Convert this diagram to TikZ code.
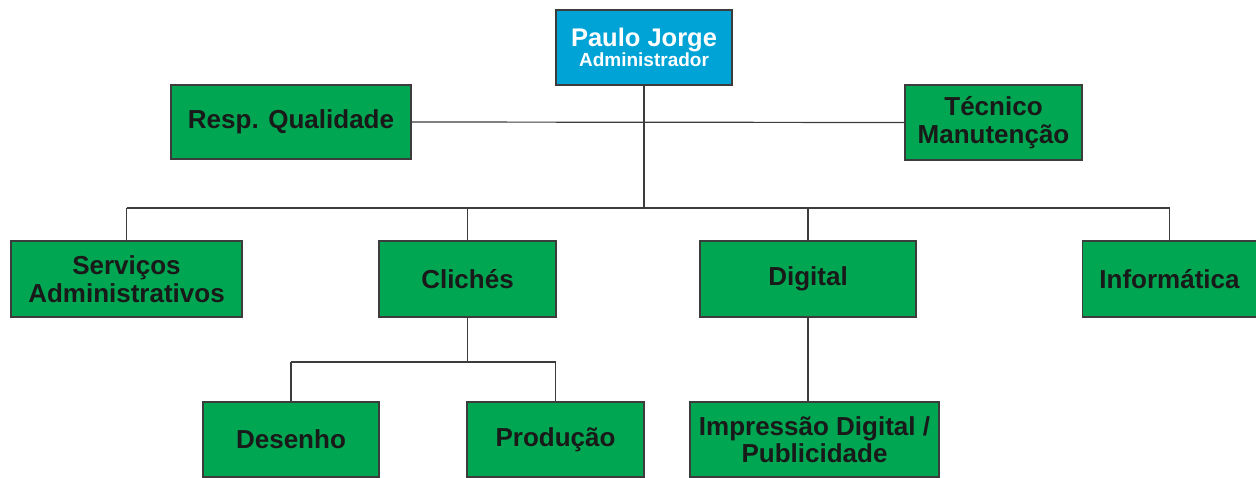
\documentclass[tikz,border=0pt]{standalone}
\usepackage{fontspec}
\setmainfont{Liberation Sans}
\definecolor{boxgreen}{RGB}{0,166,81}
\definecolor{boxblue}{RGB}{0,163,214}
\definecolor{edgegray}{RGB}{60,60,60}
\definecolor{txtdark}{RGB}{25,25,25}
\begin{document}
\begin{tikzpicture}[x=1pt,y=-1pt,
  gbox/.style={draw=edgegray,line width=1.2pt,fill=boxgreen,inner sep=0pt,align=center,
    text=txtdark,font=\fontsize{26}{27.5}\selectfont\bfseries,minimum height=75pt},
  bbox/.style={draw=edgegray,line width=1.2pt,fill=boxblue,inner sep=0pt,align=center,
    text=white,font=\fontsize{25.5}{20}\selectfont\bfseries,minimum height=75pt},
  conn/.style={draw=edgegray,line width=1.2pt}]
\useasboundingbox (0,0) rectangle (1256,477);
% top
\node[bbox,minimum width=176pt] (top) at (644,47.5)
  {Paulo Jorge\\{\fontsize{19}{20}\selectfont Administrador}};
\node[gbox,minimum width=240pt,minimum height=74pt] (qual) at (291,122) {Resp. Qualidade};
\node[gbox,minimum width=177pt] (tec) at (993.5,122.5) {Técnico\\Manutenção};
% level 2
\node[gbox,minimum width=231pt,minimum height=76pt] (serv) at (126.5,279) {Serviços\\Administrativos};
\node[gbox,minimum width=177pt,minimum height=76pt] (cli) at (467.5,279) {Clichés};
\node[gbox,minimum width=216pt,minimum height=76pt] (dig) at (808,279) {\raisebox{2pt}{Digital}};
\node[gbox,minimum width=174pt,minimum height=76pt] (inf) at (1169.5,279) {Informática};
% level 3
\node[gbox,minimum width=176pt] (des) at (291,439.5) {Desenho};
\node[gbox,minimum width=177pt] (prod) at (555.5,439.5) {Produção};
\node[gbox,minimum width=249pt] (imp) at (814.5,439.5) {Impressão Digital /\\Publicidade};
% connectors
\coordinate (hub) at (644,208);
\coordinate (sub) at (467.5,362);
\draw[conn] (qual.east) -- (tec.west);
\draw[conn] (top.south) -- (hub);
\draw[conn] (serv.north |- hub) -- (inf.north |- hub);
\draw[conn] (serv.north |- hub) -- (serv.north);
\draw[conn] (cli.north |- hub) -- (cli.north);
\draw[conn] (dig.north |- hub) -- (dig.north);
\draw[conn] (inf.north |- hub) -- (inf.north);
\draw[conn] (cli.south) -- (sub);
\draw[conn] (des.north |- sub) -- (prod.north |- sub);
\draw[conn] (des.north |- sub) -- (des.north);
\draw[conn] (prod.north |- sub) -- (prod.north);
\draw[conn] (dig.south) -- (dig.south |- imp.north);
\end{tikzpicture}
\end{document}
